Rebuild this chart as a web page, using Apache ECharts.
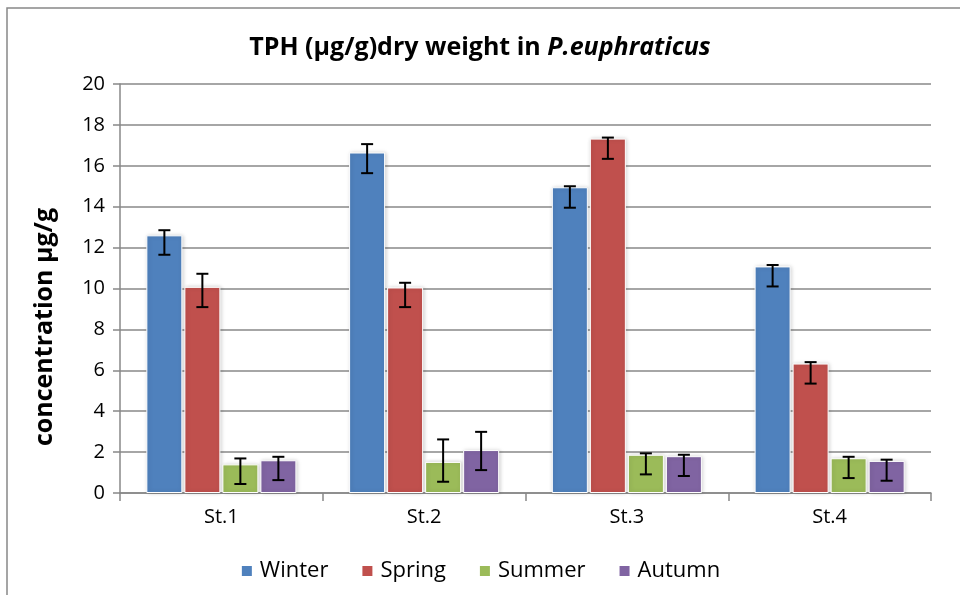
<!DOCTYPE html>
<html>
<head>
<meta charset="utf-8">
<script src="https://cdn.jsdelivr.net/npm/echarts@6/dist/echarts.min.js"></script>
<style>
  html, body { margin: 0; padding: 0; background: #fff; }
  #chart { width: 960px; height: 595px; }
</style>
</head>
<body>
<div id="chart"></div>
<script>
// TPH dry weight by station and season
var stations = ['St.1', 'St.2', 'St.3', 'St.4']
var seasons = ['Winter', 'Spring', 'Summer', 'Autumn']
var colors = ['#4F81BD', '#C0504D', '#9BBB59', '#8064A2']

var winter = [12.6, 16.65, 14.95, 11.08]
var spring = [10.08, 10.05, 17.33, 6.33]
var summer = [1.4, 1.52, 1.87, 1.7]
var autumn = [1.6, 2.1, 1.8, 1.57]

// error bar ends [low, high]
var winterErr = [[11.65, 12.85], [15.64, 17.06], [13.95, 15.0], [10.1, 11.15]]
var springErr = [[9.09, 10.72], [9.09, 10.28], [16.34, 17.38], [5.35, 6.4]]
var summerErr = [[0.44, 1.69], [0.55, 2.62], [0.91, 1.94], [0.73, 1.77]]
var autumnErr = [[0.63, 1.77], [1.12, 2.99], [0.83, 1.87], [0.6, 1.63]]

var yTicks = [0, 2, 4, 6, 8, 10, 12, 14, 16, 18, 20]

var values = [winter, spring, summer, autumn]
var errs = [winterErr, springErr, summerErr, autumnErr]

var BAR_W = 36
var STEP = 38

var chart = echarts.init(document.getElementById('chart'))

var series = []
seasons.forEach(function (name, i) {
  series.push({
    name: name,
    type: 'bar',
    data: values[i],
    barWidth: BAR_W,
    barGap: '5.6%',
    itemStyle: {
      color: colors[i],
      borderColor: '#fff',
      borderWidth: 1,
      shadowColor: 'rgba(0,0,0,0.18)',
      shadowBlur: 4,
      shadowOffsetX: 1,
      shadowOffsetY: 0,
    },
  })
})
seasons.forEach(function (name, i) {
  series.push({
    name: name + ' error',
    type: 'custom',
    z: 5,
    data: errs[i].map(function (e, k) { return [k, e[0], e[1]] }),
    renderItem: function (params, api) {
      var k = api.value(0)
      var lo = api.coord([k, api.value(1)])
      var hi = api.coord([k, api.value(2)])
      var x = lo[0] + (i - 1.5) * STEP
      var cap = 6
      var st = { stroke: '#000', lineWidth: 2 }
      return {
        type: 'group',
        children: [
          { type: 'line', shape: { x1: x, y1: hi[1], x2: x, y2: lo[1] }, style: st },
          { type: 'line', shape: { x1: x - cap, y1: hi[1], x2: x + cap, y2: hi[1] }, style: st },
          { type: 'line', shape: { x1: x - cap, y1: lo[1], x2: x + cap, y2: lo[1] }, style: st },
        ],
      }
    },
  })
})

var option = {
  animation: false,
  textStyle: { fontFamily: 'Open Sans' },
  title: {
    text: '{b|TPH (µg/g)dry weight in }{i|P.euphraticus}',
    left: 'center',
    top: 30,
    textStyle: {
      rich: {
        b: { fontSize: 25, fontWeight: 'bold', color: '#000', fontFamily: 'Open Sans' },
        i: { fontSize: 25, fontWeight: 'bold', fontStyle: 'italic', color: '#000', fontFamily: 'Open Sans' },
      },
    },
  },
  graphic: [
    {
      type: 'rect',
      shape: { x: 7, y: 8, width: 1000, height: 700 },
      style: { fill: 'none', stroke: '#888', lineWidth: 1.5 },
      silent: true,
    },
    {
      type: 'text',
      x: 45,
      y: 327,
      rotation: Math.PI / 2,
      style: {
        text: 'concentration µg/g',
        fontSize: 25,
        fontWeight: 'bold',
        fontFamily: 'Open Sans',
        fill: '#000',
        textAlign: 'center',
        textVerticalAlign: 'middle',
      },
      silent: true,
    },
  ],
  legend: {
    bottom: 8,
    left: 'center',
    itemWidth: 12,
    itemHeight: 12,
    itemGap: 32,
    icon: 'rect',
    data: seasons,
    textStyle: { fontSize: 22, color: '#000', fontFamily: 'Open Sans', padding: [0, 0, 0, 2] },
  },
  grid: {
    left: 120,
    right: 29,
    top: 84,
    bottom: 102,
  },
  xAxis: {
    type: 'category',
    data: stations,
    axisLine: { lineStyle: { color: '#888', width: 1.5 } },
    axisTick: { show: true, length: 8, lineStyle: { color: '#888', width: 1.5 } },
    axisLabel: { fontSize: 20, color: '#000', margin: 14 },
  },
  yAxis: {
    type: 'value',
    min: 0,
    max: 20,
    interval: 2,
    axisLine: { show: true, lineStyle: { color: '#888', width: 1.5 } },
    axisTick: { show: true, length: 7, lineStyle: { color: '#888', width: 1.5 } },
    axisLabel: {
      fontSize: 20,
      color: '#000',
      margin: 15,
      formatter: function (v) { return yTicks.indexOf(v) >= 0 ? String(v) : '' },
    },
    splitLine: { lineStyle: { color: '#888', width: 1.5 } },
  },
  series: series,
}

chart.setOption(option)
</script>
</body>
</html>
